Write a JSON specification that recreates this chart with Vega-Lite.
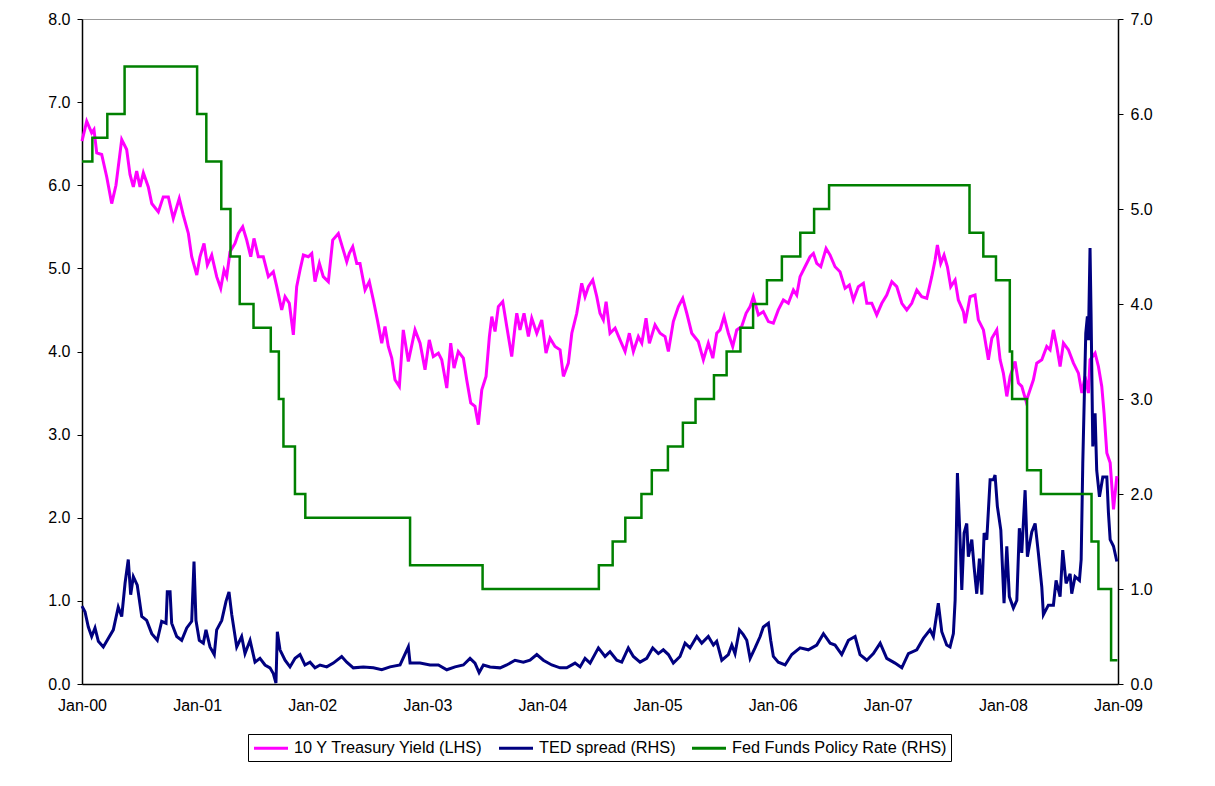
{
"$schema":"https://vega.github.io/schema/vega-lite/v6.json",
"width":1036,"height":665,
"autosize":{"type":"none"},
"padding":{"left":82,"top":19,"right":97,"bottom":102},
"background":"white",
"config":{"font":"Liberation Sans","view":{"stroke":"#999999","strokeWidth":1},
"axis":{"labelFont":"Liberation Sans","labelFontSize":16,"labelColor":"#000","domainColor":"#000","domainWidth":1.5,"tickColor":"#000","grid":false,"title":null}},
"datasets":{
"ust":[{"year":2000.0,"value":6.53},{"year":2000.041,"value":6.77},{"year":2000.084,"value":6.63},{"year":2000.104,"value":6.67},{"year":2000.128,"value":6.39},{"year":2000.171,"value":6.37},{"year":2000.215,"value":6.10},{"year":2000.258,"value":5.78},{"year":2000.295,"value":6.00},{"year":2000.345,"value":6.55},{"year":2000.388,"value":6.43},{"year":2000.417,"value":6.13},{"year":2000.446,"value":5.98},{"year":2000.475,"value":6.17},{"year":2000.504,"value":5.98},{"year":2000.533,"value":6.15},{"year":2000.576,"value":5.98},{"year":2000.606,"value":5.78},{"year":2000.663,"value":5.68},{"year":2000.706,"value":5.86},{"year":2000.750,"value":5.86},{"year":2000.793,"value":5.60},{"year":2000.845,"value":5.84},{"year":2000.880,"value":5.64},{"year":2000.924,"value":5.42},{"year":2000.953,"value":5.14},{"year":2000.997,"value":4.92},{"year":2001.025,"value":5.14},{"year":2001.060,"value":5.30},{"year":2001.089,"value":5.04},{"year":2001.127,"value":5.16},{"year":2001.170,"value":4.90},{"year":2001.205,"value":4.76},{"year":2001.234,"value":4.98},{"year":2001.257,"value":4.90},{"year":2001.286,"value":5.20},{"year":2001.329,"value":5.30},{"year":2001.358,"value":5.42},{"year":2001.396,"value":5.50},{"year":2001.431,"value":5.34},{"year":2001.466,"value":5.14},{"year":2001.494,"value":5.36},{"year":2001.532,"value":5.14},{"year":2001.575,"value":5.14},{"year":2001.619,"value":4.90},{"year":2001.662,"value":4.96},{"year":2001.692,"value":4.78},{"year":2001.735,"value":4.50},{"year":2001.764,"value":4.66},{"year":2001.801,"value":4.58},{"year":2001.836,"value":4.20},{"year":2001.865,"value":4.78},{"year":2001.894,"value":4.98},{"year":2001.923,"value":5.16},{"year":2001.966,"value":5.14},{"year":2001.996,"value":5.18},{"year":2002.024,"value":4.84},{"year":2002.062,"value":5.06},{"year":2002.096,"value":4.90},{"year":2002.140,"value":4.84},{"year":2002.178,"value":5.34},{"year":2002.227,"value":5.42},{"year":2002.270,"value":5.22},{"year":2002.300,"value":5.08},{"year":2002.322,"value":5.18},{"year":2002.352,"value":5.26},{"year":2002.387,"value":5.06},{"year":2002.415,"value":5.06},{"year":2002.459,"value":4.74},{"year":2002.496,"value":4.84},{"year":2002.531,"value":4.62},{"year":2002.566,"value":4.38},{"year":2002.604,"value":4.10},{"year":2002.632,"value":4.30},{"year":2002.661,"value":4.06},{"year":2002.691,"value":3.92},{"year":2002.719,"value":3.66},{"year":2002.757,"value":3.58},{"year":2002.791,"value":4.26},{"year":2002.835,"value":3.88},{"year":2002.893,"value":4.26},{"year":2002.937,"value":4.10},{"year":2002.980,"value":3.78},{"year":2003.017,"value":4.14},{"year":2003.052,"value":3.94},{"year":2003.096,"value":3.98},{"year":2003.125,"value":3.90},{"year":2003.169,"value":3.56},{"year":2003.203,"value":4.10},{"year":2003.232,"value":3.80},{"year":2003.269,"value":4.00},{"year":2003.313,"value":3.92},{"year":2003.342,"value":3.66},{"year":2003.377,"value":3.38},{"year":2003.414,"value":3.34},{"year":2003.443,"value":3.12},{"year":2003.473,"value":3.54},{"year":2003.510,"value":3.70},{"year":2003.539,"value":4.18},{"year":2003.560,"value":4.42},{"year":2003.588,"value":4.24},{"year":2003.617,"value":4.54},{"year":2003.655,"value":4.60},{"year":2003.690,"value":4.30},{"year":2003.733,"value":3.94},{"year":2003.762,"value":4.30},{"year":2003.777,"value":4.46},{"year":2003.805,"value":4.26},{"year":2003.840,"value":4.46},{"year":2003.878,"value":4.18},{"year":2003.907,"value":4.40},{"year":2003.951,"value":4.22},{"year":2003.994,"value":4.38},{"year":2004.031,"value":3.98},{"year":2004.066,"value":4.16},{"year":2004.109,"value":4.06},{"year":2004.153,"value":4.02},{"year":2004.182,"value":3.70},{"year":2004.225,"value":3.86},{"year":2004.255,"value":4.22},{"year":2004.298,"value":4.46},{"year":2004.341,"value":4.82},{"year":2004.370,"value":4.66},{"year":2004.399,"value":4.78},{"year":2004.437,"value":4.86},{"year":2004.472,"value":4.66},{"year":2004.500,"value":4.46},{"year":2004.529,"value":4.38},{"year":2004.553,"value":4.60},{"year":2004.587,"value":4.22},{"year":2004.631,"value":4.28},{"year":2004.674,"value":4.14},{"year":2004.718,"value":4.00},{"year":2004.755,"value":4.22},{"year":2004.790,"value":4.00},{"year":2004.833,"value":4.18},{"year":2004.863,"value":4.10},{"year":2004.900,"value":4.40},{"year":2004.929,"value":4.10},{"year":2004.978,"value":4.32},{"year":2005.022,"value":4.22},{"year":2005.065,"value":4.18},{"year":2005.094,"value":4.00},{"year":2005.137,"value":4.36},{"year":2005.181,"value":4.54},{"year":2005.219,"value":4.64},{"year":2005.254,"value":4.46},{"year":2005.297,"value":4.22},{"year":2005.354,"value":4.12},{"year":2005.398,"value":3.90},{"year":2005.441,"value":4.10},{"year":2005.480,"value":3.92},{"year":2005.514,"value":4.22},{"year":2005.543,"value":4.26},{"year":2005.578,"value":4.42},{"year":2005.615,"value":4.22},{"year":2005.653,"value":4.06},{"year":2005.688,"value":4.26},{"year":2005.731,"value":4.30},{"year":2005.769,"value":4.46},{"year":2005.804,"value":4.54},{"year":2005.832,"value":4.66},{"year":2005.876,"value":4.44},{"year":2005.919,"value":4.48},{"year":2005.963,"value":4.36},{"year":2006.006,"value":4.34},{"year":2006.049,"value":4.50},{"year":2006.093,"value":4.62},{"year":2006.136,"value":4.58},{"year":2006.180,"value":4.74},{"year":2006.209,"value":4.68},{"year":2006.238,"value":4.90},{"year":2006.281,"value":5.02},{"year":2006.325,"value":5.14},{"year":2006.354,"value":5.18},{"year":2006.383,"value":5.06},{"year":2006.418,"value":5.02},{"year":2006.464,"value":5.24},{"year":2006.499,"value":5.16},{"year":2006.542,"value":5.02},{"year":2006.585,"value":4.96},{"year":2006.629,"value":4.76},{"year":2006.666,"value":4.80},{"year":2006.701,"value":4.62},{"year":2006.744,"value":4.78},{"year":2006.788,"value":4.82},{"year":2006.818,"value":4.58},{"year":2006.861,"value":4.58},{"year":2006.904,"value":4.44},{"year":2006.948,"value":4.58},{"year":2006.991,"value":4.68},{"year":2007.035,"value":4.84},{"year":2007.078,"value":4.78},{"year":2007.122,"value":4.58},{"year":2007.165,"value":4.50},{"year":2007.208,"value":4.58},{"year":2007.252,"value":4.74},{"year":2007.295,"value":4.66},{"year":2007.339,"value":4.64},{"year":2007.382,"value":4.90},{"year":2007.411,"value":5.10},{"year":2007.431,"value":5.28},{"year":2007.460,"value":5.06},{"year":2007.489,"value":5.16},{"year":2007.518,"value":5.02},{"year":2007.547,"value":4.78},{"year":2007.585,"value":4.86},{"year":2007.613,"value":4.62},{"year":2007.657,"value":4.48},{"year":2007.672,"value":4.34},{"year":2007.715,"value":4.66},{"year":2007.758,"value":4.68},{"year":2007.787,"value":4.38},{"year":2007.831,"value":4.26},{"year":2007.874,"value":3.90},{"year":2007.904,"value":4.16},{"year":2007.947,"value":4.26},{"year":2007.976,"value":3.90},{"year":2008.004,"value":3.74},{"year":2008.034,"value":3.46},{"year":2008.063,"value":3.70},{"year":2008.106,"value":3.88},{"year":2008.135,"value":3.62},{"year":2008.164,"value":3.58},{"year":2008.202,"value":3.40},{"year":2008.236,"value":3.54},{"year":2008.265,"value":3.66},{"year":2008.294,"value":3.86},{"year":2008.338,"value":3.90},{"year":2008.381,"value":4.06},{"year":2008.410,"value":4.02},{"year":2008.439,"value":4.26},{"year":2008.468,"value":4.06},{"year":2008.497,"value":3.82},{"year":2008.526,"value":4.10},{"year":2008.569,"value":4.02},{"year":2008.613,"value":3.86},{"year":2008.656,"value":3.74},{"year":2008.686,"value":3.50},{"year":2008.714,"value":3.70},{"year":2008.743,"value":3.50},{"year":2008.757,"value":3.90},{"year":2008.801,"value":3.98},{"year":2008.830,"value":3.82},{"year":2008.859,"value":3.58},{"year":2008.879,"value":3.26},{"year":2008.903,"value":2.78},{"year":2008.932,"value":2.66},{"year":2008.961,"value":2.10},{"year":2008.990,"value":2.50}],
"ted":[{"year":2000.0,"value":0.82},{"year":2000.026,"value":0.76},{"year":2000.055,"value":0.60},{"year":2000.084,"value":0.50},{"year":2000.113,"value":0.59},{"year":2000.142,"value":0.45},{"year":2000.185,"value":0.39},{"year":2000.228,"value":0.48},{"year":2000.272,"value":0.57},{"year":2000.315,"value":0.81},{"year":2000.345,"value":0.71},{"year":2000.374,"value":1.06},{"year":2000.402,"value":1.31},{"year":2000.423,"value":0.94},{"year":2000.446,"value":1.13},{"year":2000.480,"value":1.04},{"year":2000.519,"value":0.71},{"year":2000.562,"value":0.67},{"year":2000.606,"value":0.53},{"year":2000.654,"value":0.46},{"year":2000.692,"value":0.66},{"year":2000.730,"value":0.64},{"year":2000.741,"value":0.97},{"year":2000.765,"value":0.97},{"year":2000.779,"value":0.64},{"year":2000.823,"value":0.50},{"year":2000.866,"value":0.46},{"year":2000.910,"value":0.59},{"year":2000.953,"value":0.66},{"year":2000.973,"value":1.29},{"year":2000.990,"value":0.67},{"year":2001.019,"value":0.46},{"year":2001.054,"value":0.43},{"year":2001.077,"value":0.57},{"year":2001.112,"value":0.39},{"year":2001.149,"value":0.31},{"year":2001.170,"value":0.57},{"year":2001.214,"value":0.67},{"year":2001.251,"value":0.87},{"year":2001.277,"value":0.97},{"year":2001.301,"value":0.73},{"year":2001.344,"value":0.39},{"year":2001.387,"value":0.50},{"year":2001.416,"value":0.32},{"year":2001.460,"value":0.46},{"year":2001.503,"value":0.23},{"year":2001.546,"value":0.27},{"year":2001.590,"value":0.20},{"year":2001.633,"value":0.17},{"year":2001.662,"value":0.11},{"year":2001.685,"value":0.01},{"year":2001.697,"value":0.55},{"year":2001.720,"value":0.36},{"year":2001.764,"value":0.25},{"year":2001.807,"value":0.18},{"year":2001.851,"value":0.27},{"year":2001.894,"value":0.31},{"year":2001.937,"value":0.20},{"year":2001.981,"value":0.23},{"year":2002.024,"value":0.17},{"year":2002.068,"value":0.20},{"year":2002.126,"value":0.18},{"year":2002.183,"value":0.22},{"year":2002.256,"value":0.29},{"year":2002.300,"value":0.23},{"year":2002.357,"value":0.17},{"year":2002.444,"value":0.18},{"year":2002.531,"value":0.17},{"year":2002.604,"value":0.15},{"year":2002.676,"value":0.18},{"year":2002.763,"value":0.20},{"year":2002.835,"value":0.39},{"year":2002.850,"value":0.22},{"year":2002.937,"value":0.22},{"year":2003.023,"value":0.20},{"year":2003.096,"value":0.20},{"year":2003.169,"value":0.15},{"year":2003.241,"value":0.18},{"year":2003.313,"value":0.20},{"year":2003.371,"value":0.27},{"year":2003.414,"value":0.22},{"year":2003.450,"value":0.12},{"year":2003.487,"value":0.20},{"year":2003.545,"value":0.18},{"year":2003.632,"value":0.17},{"year":2003.690,"value":0.20},{"year":2003.762,"value":0.25},{"year":2003.834,"value":0.23},{"year":2003.892,"value":0.25},{"year":2003.951,"value":0.31},{"year":2004.008,"value":0.25},{"year":2004.081,"value":0.20},{"year":2004.153,"value":0.17},{"year":2004.211,"value":0.17},{"year":2004.283,"value":0.22},{"year":2004.327,"value":0.18},{"year":2004.370,"value":0.27},{"year":2004.414,"value":0.22},{"year":2004.486,"value":0.38},{"year":2004.544,"value":0.29},{"year":2004.587,"value":0.34},{"year":2004.646,"value":0.25},{"year":2004.689,"value":0.23},{"year":2004.746,"value":0.38},{"year":2004.790,"value":0.29},{"year":2004.848,"value":0.23},{"year":2004.906,"value":0.27},{"year":2004.958,"value":0.38},{"year":2005.007,"value":0.32},{"year":2005.050,"value":0.36},{"year":2005.094,"value":0.31},{"year":2005.137,"value":0.22},{"year":2005.195,"value":0.29},{"year":2005.239,"value":0.43},{"year":2005.282,"value":0.38},{"year":2005.341,"value":0.50},{"year":2005.384,"value":0.43},{"year":2005.441,"value":0.50},{"year":2005.485,"value":0.41},{"year":2005.514,"value":0.45},{"year":2005.558,"value":0.25},{"year":2005.615,"value":0.31},{"year":2005.645,"value":0.41},{"year":2005.673,"value":0.32},{"year":2005.711,"value":0.57},{"year":2005.745,"value":0.52},{"year":2005.775,"value":0.46},{"year":2005.804,"value":0.27},{"year":2005.847,"value":0.38},{"year":2005.891,"value":0.50},{"year":2005.919,"value":0.60},{"year":2005.963,"value":0.64},{"year":2005.983,"value":0.46},{"year":2006.006,"value":0.29},{"year":2006.049,"value":0.23},{"year":2006.108,"value":0.20},{"year":2006.166,"value":0.31},{"year":2006.238,"value":0.38},{"year":2006.310,"value":0.36},{"year":2006.383,"value":0.41},{"year":2006.441,"value":0.53},{"year":2006.499,"value":0.43},{"year":2006.542,"value":0.41},{"year":2006.600,"value":0.31},{"year":2006.658,"value":0.46},{"year":2006.716,"value":0.50},{"year":2006.759,"value":0.31},{"year":2006.818,"value":0.25},{"year":2006.875,"value":0.32},{"year":2006.934,"value":0.43},{"year":2006.991,"value":0.27},{"year":2007.063,"value":0.22},{"year":2007.122,"value":0.17},{"year":2007.179,"value":0.32},{"year":2007.252,"value":0.36},{"year":2007.309,"value":0.48},{"year":2007.367,"value":0.57},{"year":2007.396,"value":0.50},{"year":2007.439,"value":0.85},{"year":2007.469,"value":0.55},{"year":2007.512,"value":0.41},{"year":2007.541,"value":0.39},{"year":2007.570,"value":0.53},{"year":2007.585,"value":0.88},{"year":2007.605,"value":2.22},{"year":2007.628,"value":1.52},{"year":2007.643,"value":0.99},{"year":2007.663,"value":1.59},{"year":2007.686,"value":1.69},{"year":2007.700,"value":1.34},{"year":2007.730,"value":1.52},{"year":2007.750,"value":1.23},{"year":2007.773,"value":0.95},{"year":2007.796,"value":1.32},{"year":2007.817,"value":0.94},{"year":2007.837,"value":1.59},{"year":2007.860,"value":1.52},{"year":2007.889,"value":2.15},{"year":2007.918,"value":2.15},{"year":2007.932,"value":2.20},{"year":2007.952,"value":1.87},{"year":2007.982,"value":1.62},{"year":2008.010,"value":0.85},{"year":2008.034,"value":1.45},{"year":2008.056,"value":0.92},{"year":2008.091,"value":0.80},{"year":2008.121,"value":0.88},{"year":2008.143,"value":1.64},{"year":2008.164,"value":1.38},{"year":2008.193,"value":2.04},{"year":2008.213,"value":1.34},{"year":2008.251,"value":1.60},{"year":2008.280,"value":1.69},{"year":2008.308,"value":1.38},{"year":2008.338,"value":1.02},{"year":2008.352,"value":0.73},{"year":2008.395,"value":0.83},{"year":2008.439,"value":0.83},{"year":2008.462,"value":1.09},{"year":2008.497,"value":0.92},{"year":2008.520,"value":1.41},{"year":2008.549,"value":1.06},{"year":2008.584,"value":1.16},{"year":2008.598,"value":0.95},{"year":2008.627,"value":1.13},{"year":2008.665,"value":1.09},{"year":2008.680,"value":1.31},{"year":2008.694,"value":2.32},{"year":2008.708,"value":3.06},{"year":2008.720,"value":3.69},{"year":2008.734,"value":3.87},{"year":2008.743,"value":3.62},{"year":2008.757,"value":4.59},{"year":2008.766,"value":3.90},{"year":2008.781,"value":2.50},{"year":2008.801,"value":2.85},{"year":2008.815,"value":2.25},{"year":2008.839,"value":1.97},{"year":2008.868,"value":2.18},{"year":2008.903,"value":2.18},{"year":2008.917,"value":1.80},{"year":2008.932,"value":1.52},{"year":2008.961,"value":1.45},{"year":2008.990,"value":1.29}],
"ffr":[{"year":2000.0,"value":5.5},{"year":2000.09,"value":5.75},{"year":2000.22,"value":6.0},{"year":2000.37,"value":6.5},{"year":2001.0,"value":6.0},{"year":2001.08,"value":5.5},{"year":2001.21,"value":5.0},{"year":2001.29,"value":4.5},{"year":2001.37,"value":4.0},{"year":2001.49,"value":3.75},{"year":2001.64,"value":3.5},{"year":2001.71,"value":3.0},{"year":2001.75,"value":2.5},{"year":2001.85,"value":2.0},{"year":2001.94,"value":1.75},{"year":2002.85,"value":1.25},{"year":2003.48,"value":1.0},{"year":2004.49,"value":1.25},{"year":2004.61,"value":1.5},{"year":2004.72,"value":1.75},{"year":2004.86,"value":2.0},{"year":2004.95,"value":2.25},{"year":2005.09,"value":2.5},{"year":2005.22,"value":2.75},{"year":2005.33,"value":3.0},{"year":2005.49,"value":3.25},{"year":2005.6,"value":3.5},{"year":2005.72,"value":3.75},{"year":2005.83,"value":4.0},{"year":2005.95,"value":4.25},{"year":2006.08,"value":4.5},{"year":2006.24,"value":4.75},{"year":2006.36,"value":5.0},{"year":2006.49,"value":5.25},{"year":2007.71,"value":4.75},{"year":2007.83,"value":4.5},{"year":2007.94,"value":4.25},{"year":2008.06,"value":3.5},{"year":2008.08,"value":3.0},{"year":2008.21,"value":2.25},{"year":2008.33,"value":2.0},{"year":2008.77,"value":1.5},{"year":2008.83,"value":1.0},{"year":2008.94,"value":0.25},{"year":2008.995,"value":0.25}]
},
"encoding":{"x":{"field":"year","type":"quantitative","scale":{"domain":[2000,2009],"nice":false,"zero":false},
"axis":{"values":[2000,2001,2002,2003,2004,2005,2006,2007,2008,2009],"format":"d","labelExpr":"'Jan-' + slice(datum.label, 2)","ticks":false,"labelPadding":13,"labelFlush":false}}},
"layer":[
{"data":{"name":"ust"},"mark":{"type":"line","strokeWidth":3},
"encoding":{"y":{"field":"value","type":"quantitative","scale":{"domain":[0,8],"nice":false,"zero":true},"axis":{"orient":"left","values":[0,1,2,3,4,5,6,7,8],"format":".1f","tickSize":5,"labelPadding":7}},
"color":{"datum":"10 Y Treasury Yield (LHS)","type":"nominal","scale":{"domain":["10 Y Treasury Yield (LHS)","TED spread (RHS)","Fed Funds Policy Rate (RHS)"],"range":["#FF00FF","#000080","#008000"]},
"legend":{"orient":"none","legendX":166,"legendY":715,"direction":"horizontal","title":null,"symbolType":"M-2,0H2","symbolSize":289,"symbolStrokeWidth":3,"symbolOffset":9,"labelFont":"Liberation Sans","labelFontSize":16.3,"labelColor":"#000","labelLimit":400,"strokeColor":"#000","fillColor":"#fff","padding":4,"columnPadding":10,"labelOffset":13}}}},
{"layer":[
{"data":{"name":"ted"},"mark":{"type":"line","strokeWidth":3},
"encoding":{"y":{"field":"value","type":"quantitative","scale":{"domain":[0,7],"nice":false,"zero":true},"axis":{"orient":"right","values":[0,1,2,3,4,5,6,7],"format":".1f","tickSize":5,"labelPadding":7}},
"color":{"datum":"TED spread (RHS)","type":"nominal"}}},
{"data":{"name":"ffr"},"mark":{"type":"line","interpolate":"step-after","strokeWidth":2.5},
"encoding":{"y":{"field":"value","type":"quantitative"},"color":{"datum":"Fed Funds Policy Rate (RHS)","type":"nominal"}}}
]}
],
"resolve":{"scale":{"y":"independent"}}
}
